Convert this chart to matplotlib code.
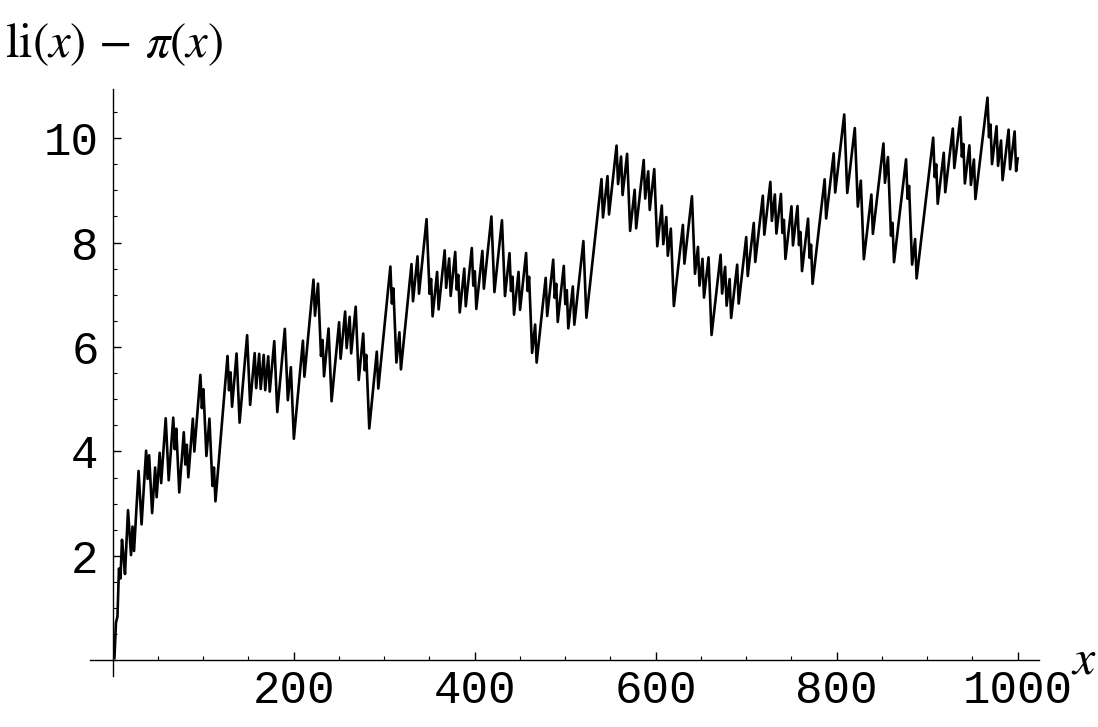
import numpy as np
import matplotlib
matplotlib.use('Agg')
import matplotlib.pyplot as plt
from matplotlib.ticker import MultipleLocator

# primes below 1000 (the steps of pi(x))
primes = [2, 3, 5, 7, 11, 13, 17, 19, 23, 29, 31, 37, 41, 43, 47, 53, 59, 61, 67, 71, 73, 79, 83, 89, 97,
          101, 103, 107, 109, 113, 127, 131, 137, 139, 149, 151, 157, 163, 167, 173, 179, 181, 191, 193, 197, 199,
          211, 223, 227, 229, 233, 239, 241, 251, 257, 263, 269, 271, 277, 281, 283, 293,
          307, 311, 313, 317, 331, 337, 347, 349, 353, 359, 367, 373, 379, 383, 389, 397,
          401, 409, 419, 421, 431, 433, 439, 443, 449, 457, 461, 463, 467, 479, 487, 491, 499,
          503, 509, 521, 523, 541, 547, 557, 563, 569, 571, 577, 587, 593, 599,
          601, 607, 613, 617, 619, 631, 641, 643, 647, 653, 659, 661, 673, 677, 683, 691,
          701, 709, 719, 727, 733, 739, 743, 751, 757, 761, 769, 773, 787, 797,
          809, 811, 821, 823, 827, 829, 839, 853, 857, 859, 863, 877, 881, 883, 887,
          907, 911, 919, 929, 937, 941, 947, 953, 967, 971, 977, 983, 991, 997]
li2 = 1.04516378
x_ticks = [200, 400, 600, 800, 1000]
y_ticks = [2, 4, 6, 8, 10]

# li(x) = li(2) + integral from 2 to x of dt/ln t
t = np.linspace(2, 1000, 200001)
f = 1 / np.log(t)
li_t = li2 + np.concatenate([[0], np.cumsum((f[1:] + f[:-1]) / 2 * np.diff(t))])

xs = np.linspace(2, 1000, 600)
li_x = np.interp(xs, t, li_t)
pi_x = np.searchsorted(primes, xs, side='right')
diff = li_x - pi_x

plt.rcParams['mathtext.fontset'] = 'stix'
mono = 'Liberation Mono'

fig = plt.figure(figsize=(10.98, 7.27), dpi=100)
ax = fig.add_axes([90 / 1098, 1 - 675.7 / 727, 949 / 1098, (675.7 - 89) / 727])
ax.plot(xs, diff, color='black', lw=1.9)

ax.set_xlim(-25, 1023.6)
ax.set_ylim(-0.295, 10.94)
for s in ['top', 'right']:
    ax.spines[s].set_visible(False)
ax.spines['left'].set_position(('data', 0))
ax.spines['bottom'].set_position(('data', 0))
ax.spines['left'].set_linewidth(1.0)
ax.spines['bottom'].set_linewidth(1.0)

ax.set_xticks(x_ticks)
ax.set_yticks(y_ticks)
ax.xaxis.set_minor_locator(MultipleLocator(50))
ax.yaxis.set_minor_locator(MultipleLocator(0.5))
ax.tick_params(which='major', direction='in', length=6, width=1.0)
ax.tick_params(which='minor', direction='in', length=3, width=0.8)
ax.tick_params(axis='x', which='major', pad=6)
ax.tick_params(axis='y', which='major', pad=10)
for lab in ax.get_xticklabels() + ax.get_yticklabels():
    lab.set_fontfamily(mono)
    lab.set_fontsize(33)

fig.text(5 / 1098, 1 - 57 / 727, r'$\mathrm{li}(x)\,-\,\pi(x)$', fontsize=35, va='baseline', ha='left')
fig.text(1071 / 1098, 1 - 674 / 727, r'$x$', fontsize=36, va='baseline', ha='left')

fig.savefig('out.png', dpi=100)
